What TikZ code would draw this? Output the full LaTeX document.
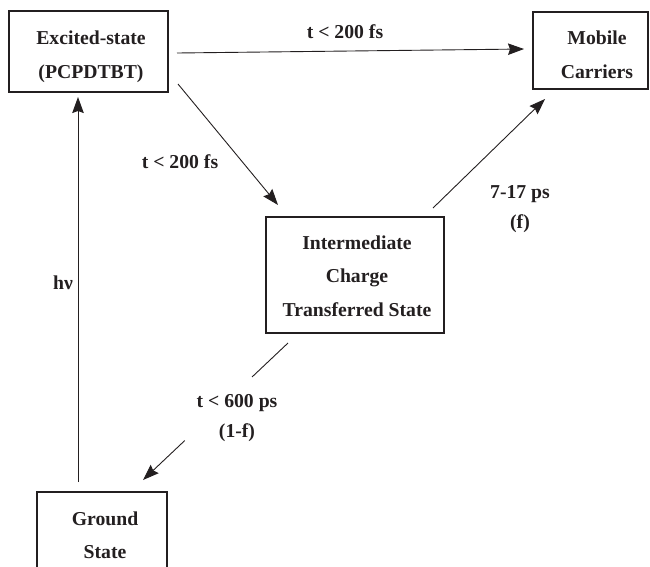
\documentclass[tikz,border=0pt]{standalone}
\usepackage{fontspec}
\setmainfont{Liberation Serif}
\usetikzlibrary{arrows.meta,calc}
\definecolor{ink}{HTML}{231F20}
\begin{document}
\begin{tikzpicture}[x=1pt,y=-1pt,
  statebox/.style={draw=ink,line width=1.1pt,outer sep=0pt,inner sep=0pt},
  txt/.style={align=center,text=ink,inner sep=0pt,font=\bfseries\fontsize{19.7}{33.5}\selectfont},
  lbl/.style={align=center,text=ink,inner sep=0pt,font=\bfseries\fontsize{19.7}{30}\selectfont},
  conn/.style={draw=ink,line width=0.9pt},
  arr/.style={conn,-{Stealth[length=16pt,width=11.5pt,inset=2pt]}}]
\useasboundingbox (0,0) rectangle (650,566);
\clip (0,0) rectangle (650,566);

% boxes
\node[statebox,minimum width=159pt,minimum height=81pt] (exc) at (88.5,51.5) {};
\node[statebox,minimum width=115pt,minimum height=77pt] (mob) at (590.5,50.5) {};
\node[statebox,minimum width=178pt,minimum height=116pt] (inter) at (355,275) {};
\node[statebox,minimum width=130pt,minimum height=88pt] (gnd) at (102,536) {};

% box texts
\node[txt] (exct) at (91,57) {Excited-state\\(PCPDTBT)};
\node[txt] (mobt) at (597,55) {Mobile\\Carriers};
\node[txt] (intert) at (357,276) {Intermediate\\Charge\\Transferred State};
\node[txt] (gndt) at (105,535) {Ground\\State};

% connectors
\draw[arr] ([shift={(9,1.5)}]exc.east) -- ([shift={(-9,-1.5)}]mob.west);
\draw[arr] ([shift={(10,-8)}]exc.south east) -- ([shift={(12,-12)}]inter.north west);
\draw[arr] ([shift={(-11,-9)}]inter.north east) -- ([shift={(12,10)}]mob.south west);
\draw[arr] ([shift={(-24,-10)}]gnd.north) -- ([shift={(-10.5,5)}]exc.south);

\coordinate (ga) at ([shift={(22,10)}]inter.south west);
\coordinate (gb) at ([shift={(-24,-12)}]gnd.north east);
\coordinate (g1) at ($(ga)!0.248!(gb)$);
\coordinate (g2) at ($(ga)!0.712!(gb)$);
\draw[conn] (ga) -- (g1);
\draw[arr] (g2) -- (gb);

% labels
\node[lbl] (l1) at (345,32) {t < 200 fs};
\node[lbl] (l2) at (180,162) {t < 200 fs};
\node[lbl] (l3) at (520,209) {7-17 ps\\(f)};
\node[lbl] (l4) at (237,418) {t < 600 ps\\(1-f)};
\node[lbl] (l5) at (63,283) {hν};
\end{tikzpicture}
\end{document}
